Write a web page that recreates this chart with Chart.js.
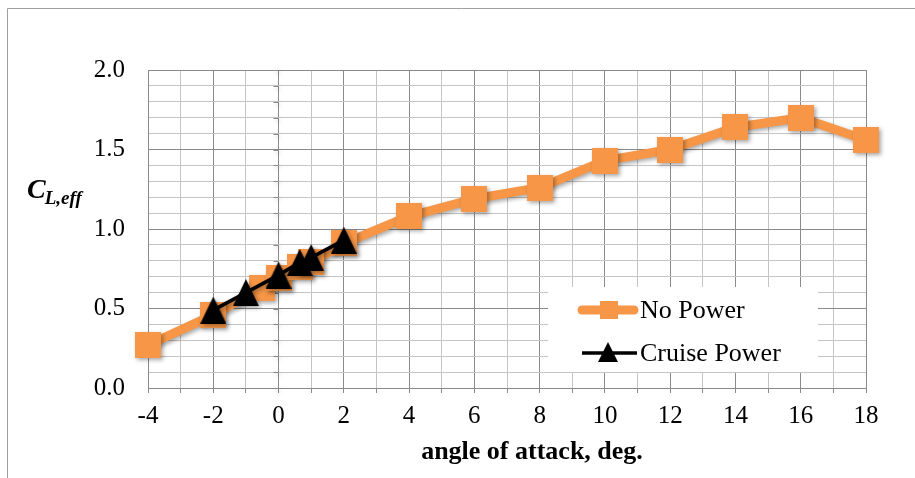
<!DOCTYPE html>
<html><head><meta charset="utf-8">
<script src="https://cdn.jsdelivr.net/npm/chart.js@4.4.0/dist/chart.umd.min.js"></script>
<style>html,body{margin:0;padding:0;background:#fff;}canvas{display:block}</style>
</head><body>
<canvas id="c" width="915" height="478"></canvas>
<script>
// ---- data ----
const seriesNames = ['No Power', 'Cruise Power'];
const angleNoPower = [-4, -2, -0.5, 0, 0.65, 1, 2, 4, 6, 8, 10, 12, 14, 16, 18];
const clNoPower    = [0.27, 0.46, 0.63, 0.69, 0.76, 0.79, 0.91, 1.08, 1.19, 1.26, 1.43, 1.50, 1.64, 1.70, 1.56];
const angleCruise  = [-2, -1, 0, 0.65, 1, 2];
const clCruise     = [0.49, 0.60, 0.71, 0.79, 0.82, 0.93];
const xTickLabels  = [-4, -2, 0, 2, 4, 6, 8, 10, 12, 14, 16, 18];
const yTickLabels  = [0.0, 0.5, 1.0, 1.5, 2.0];
const xTitle = 'angle of attack, deg.';
const yTitleMain = 'C';
const yTitleSub = 'L,eff';

// ---- styles ----
const ORANGE = '#F79646';
const MAJOR = '#8a8a8a';
const MINOR = '#c4c4c4';
const FONT = '"Liberation Serif", "Times New Roman", serif';

function makeSquare(s, color) {
  const c = document.createElement('canvas'); c.width = s; c.height = s;
  const g = c.getContext('2d'); g.fillStyle = color; g.fillRect(0, 0, s, s); return c;
}
function makeTriangle(w, h, color) {
  const c = document.createElement('canvas'); c.width = w; c.height = h;
  const g = c.getContext('2d'); g.fillStyle = color;
  g.beginPath(); g.moveTo(0, h); g.lineTo(w / 2, 0); g.lineTo(w, h); g.closePath(); g.fill(); return c;
}
const sqMarker = makeSquare(26, ORANGE);
const triMarker = makeTriangle(26, 27, '#000');
const sqLegend = makeSquare(18, ORANGE);
const triLegend = makeTriangle(20, 20, '#000');

const isXLabel = v => xTickLabels.some(t => Math.abs(t - v) < 1e-6);
const isYLabel = v => yTickLabels.some(t => Math.abs(t - v) < 1e-6);

const frame = {
  id: 'frame',
  beforeDraw(chart) {
    const ctx = chart.ctx; ctx.save();
    ctx.strokeStyle = '#a0a0a0'; ctx.lineWidth = 1;
    ctx.beginPath(); ctx.moveTo(7.5, 478); ctx.lineTo(7.5, 8.5); ctx.lineTo(915, 8.5); ctx.stroke();
    ctx.restore();
  }
};
const shadow = {
  id: 'shadow',
  beforeDatasetsDraw(chart) {
    const ctx = chart.ctx; ctx.save();
    ctx.shadowColor = 'rgba(0,0,0,0.35)'; ctx.shadowBlur = 4; ctx.shadowOffsetX = 2; ctx.shadowOffsetY = 2;
  },
  afterDatasetsDraw(chart) { chart.ctx.restore(); }
};
const extras = {
  id: 'extras',
  beforeDatasetsDraw(chart) {
    // small tick marks on the vertical axis that crosses at x = 0
    const ctx = chart.ctx, xs = chart.scales.x, ys = chart.scales.y;
    const x0 = xs.getPixelForValue(0);
    ctx.save(); ctx.strokeStyle = MAJOR; ctx.lineWidth = 1;
    ctx.beginPath();
    ys.ticks.forEach(t => { const y = Math.round(ys.getPixelForValue(t.value)) + 0.5; ctx.moveTo(x0 - 5, y); ctx.lineTo(x0, y); });
    ctx.stroke(); ctx.restore();
  },
  afterDraw(chart) {
    const ctx = chart.ctx; ctx.save();
    ctx.fillStyle = '#000';
    // y title
    ctx.textBaseline = 'alphabetic'; ctx.textAlign = 'left';
    ctx.font = 'italic bold 28px ' + FONT;
    ctx.fillText(yTitleMain, 27, 198);
    const wC = ctx.measureText(yTitleMain).width;
    ctx.font = 'italic bold 19px ' + FONT;
    ctx.fillText(yTitleSub, 27 + wC - 1, 204);
    // x title
    ctx.font = 'bold 26px ' + FONT; ctx.textAlign = 'center'; ctx.textBaseline = 'middle';
    ctx.fillText(xTitle, 532, 452);
    // legend
    ctx.fillStyle = '#fff'; ctx.fillRect(548, 287, 270, 85);
    const ds = chart.data.datasets;
    ctx.lineCap = 'round';
    ctx.strokeStyle = ORANGE; ctx.lineWidth = 9;
    ctx.beginPath(); ctx.moveTo(582, 310); ctx.lineTo(634, 310); ctx.stroke();
    ctx.drawImage(sqLegend, 609 - 9, 310 - 9);
    ctx.lineCap = 'butt';
    ctx.strokeStyle = '#000'; ctx.lineWidth = 3.5;
    ctx.beginPath(); ctx.moveTo(582, 353); ctx.lineTo(637, 353); ctx.stroke();
    ctx.drawImage(triLegend, 608 - 10, 352 - 10);
    ctx.fillStyle = '#000'; ctx.font = '26px ' + FONT; ctx.textAlign = 'left'; ctx.textBaseline = 'middle';
    ctx.fillText(ds[1].label, 640, 311);
    ctx.fillText(ds[0].label, 640, 354);
    ctx.restore();
  }
};

new Chart(document.getElementById('c'), {
  type: 'line',
  data: {
    datasets: [
      {
        label: seriesNames[1],
        data: angleCruise.map((x, i) => ({x, y: clCruise[i]})),
        borderColor: '#000', backgroundColor: '#000', borderWidth: 3.5,
        pointStyle: triMarker, pointRadius: 13, pointHoverRadius: 13,
        clip: false, order: 0, tension: 0
      },
      {
        label: seriesNames[0],
        data: angleNoPower.map((x, i) => ({x, y: clNoPower[i]})),
        borderColor: ORANGE, backgroundColor: ORANGE, borderWidth: 9,
        borderJoinStyle: 'round',
        pointStyle: sqMarker, pointRadius: 13, pointHoverRadius: 13,
        clip: false, order: 1, tension: 0
      }
    ]
  },
  options: {
    responsive: false, animation: false,
    layout: { padding: { top: 70, right: 49, left: 0, bottom: 0 } },
    plugins: { legend: { display: false }, tooltip: { enabled: false }, title: { display: false } },
    scales: {
      x: {
        type: 'linear', min: -4, max: 18,
        afterFit(s) { s.height = 90; },
        border: { color: MAJOR, width: 1 },
        grid: {
          color: c => isXLabel(c.tick.value) ? MAJOR : MINOR,
          tickColor: MAJOR, tickLength: 5, drawTicks: true
        },
        ticks: {
          stepSize: 1, autoSkip: false, maxRotation: 0, padding: 8, color: '#000',
          font: { family: FONT, size: 25 },
          callback: v => isXLabel(v) ? String(Math.round(v)) : ''
        }
      },
      y: {
        type: 'linear', min: 0, max: 2,
        afterFit(s) { s.width = 148; },
        border: { color: MAJOR, width: 1 },
        grid: {
          color: c => isYLabel(c.tick.value) ? MAJOR : MINOR,
          drawTicks: false
        },
        ticks: {
          stepSize: 0.1, autoSkip: false, padding: 23, color: '#000',
          font: { family: FONT, size: 25 },
          callback: v => isYLabel(v) ? v.toFixed(1) : ''
        }
      }
    }
  },
  plugins: [frame, shadow, extras]
});
</script>
</body></html>
